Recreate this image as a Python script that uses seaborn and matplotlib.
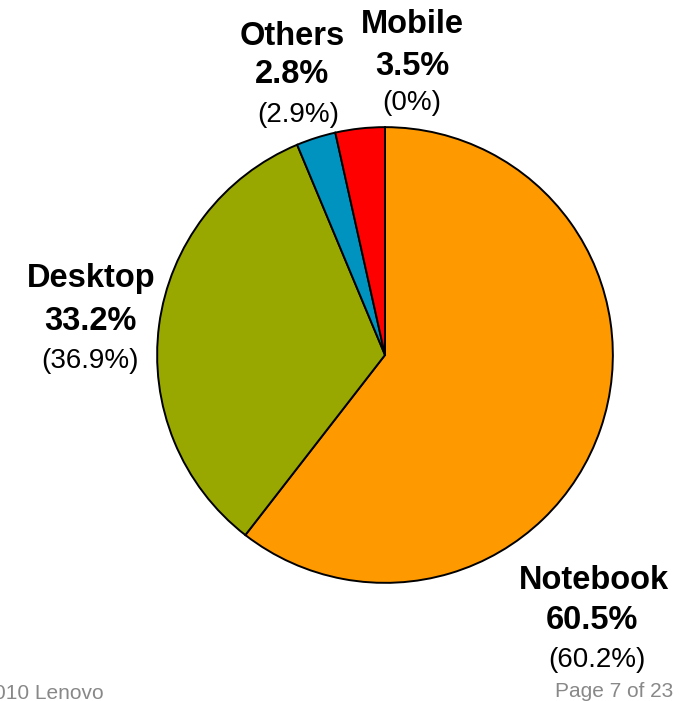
import seaborn as sns
import matplotlib.pyplot as plt

# market share by segment (current period, and previous period in brackets)
segments = ['Notebook', 'Desktop', 'Others', 'Mobile']
shares = [60.5, 33.2, 2.8, 3.5]
prev_labels = ['(60.2%)', '(36.9%)', '(2.9%)', '(0%)']
colors = ['#FF9900', '#99A800', '#0093C0', '#FF0000']

sns.set_theme(style='white')
plt.rcParams['font.family'] = ['Liberation Sans', 'DejaVu Sans']

W, H = 691, 701
fig = plt.figure(figsize=(W / 100, H / 100), dpi=100)
fig.patch.set_facecolor('white')

# pie centre and radius in pixels
cx, cy, r = 385, 355, 229
ax = fig.add_axes([(cx - r) / W, (H - cy - r) / H, 2 * r / W, 2 * r / H])
ax.pie(shares, colors=colors, startangle=90, counterclock=False,
       wedgeprops={'edgecolor': 'black', 'linewidth': 1.4})
ax.set_xlim(-1.005, 1.005)
ax.set_ylim(-1.005, 1.005)
ax.set_aspect('equal')
ax.axis('off')

# label layout: centre x and baselines of the three lines (pixels)
label_x = {'Notebook': (594, 592, 597), 'Desktop': (91, 90, 90),
           'Others': (292, 292, 298), 'Mobile': (412, 412, 412)}
label_y = {'Notebook': (589, 629, 667), 'Desktop': (287, 330, 368),
           'Others': (45, 83, 122), 'Mobile': (33, 75, 110)}

def px(x, y):
    return x / W, 1 - y / H

for name, val, prev in zip(segments, shares, prev_labels):
    xs, ys = label_x[name], label_y[name]
    fig.text(*px(xs[0], ys[0]), name, ha='center', va='baseline',
             fontsize=23.5, fontweight='bold', color='black')
    fig.text(*px(xs[1], ys[1]), f'{val}%', ha='center', va='baseline',
             fontsize=23.5, fontweight='bold', color='black')
    fig.text(*px(xs[2], ys[2]), prev, ha='center', va='baseline',
             fontsize=20, color='black')

fig.text(*px(555, 697), 'Page 7 of 23', ha='left', va='baseline',
         fontsize=15, color='#888888')
fig.text(*px(104, 699), '©2010 Lenovo', ha='right', va='baseline',
         fontsize=15, color='#888888')

fig.savefig('out.png', dpi=100)
plt.close()
